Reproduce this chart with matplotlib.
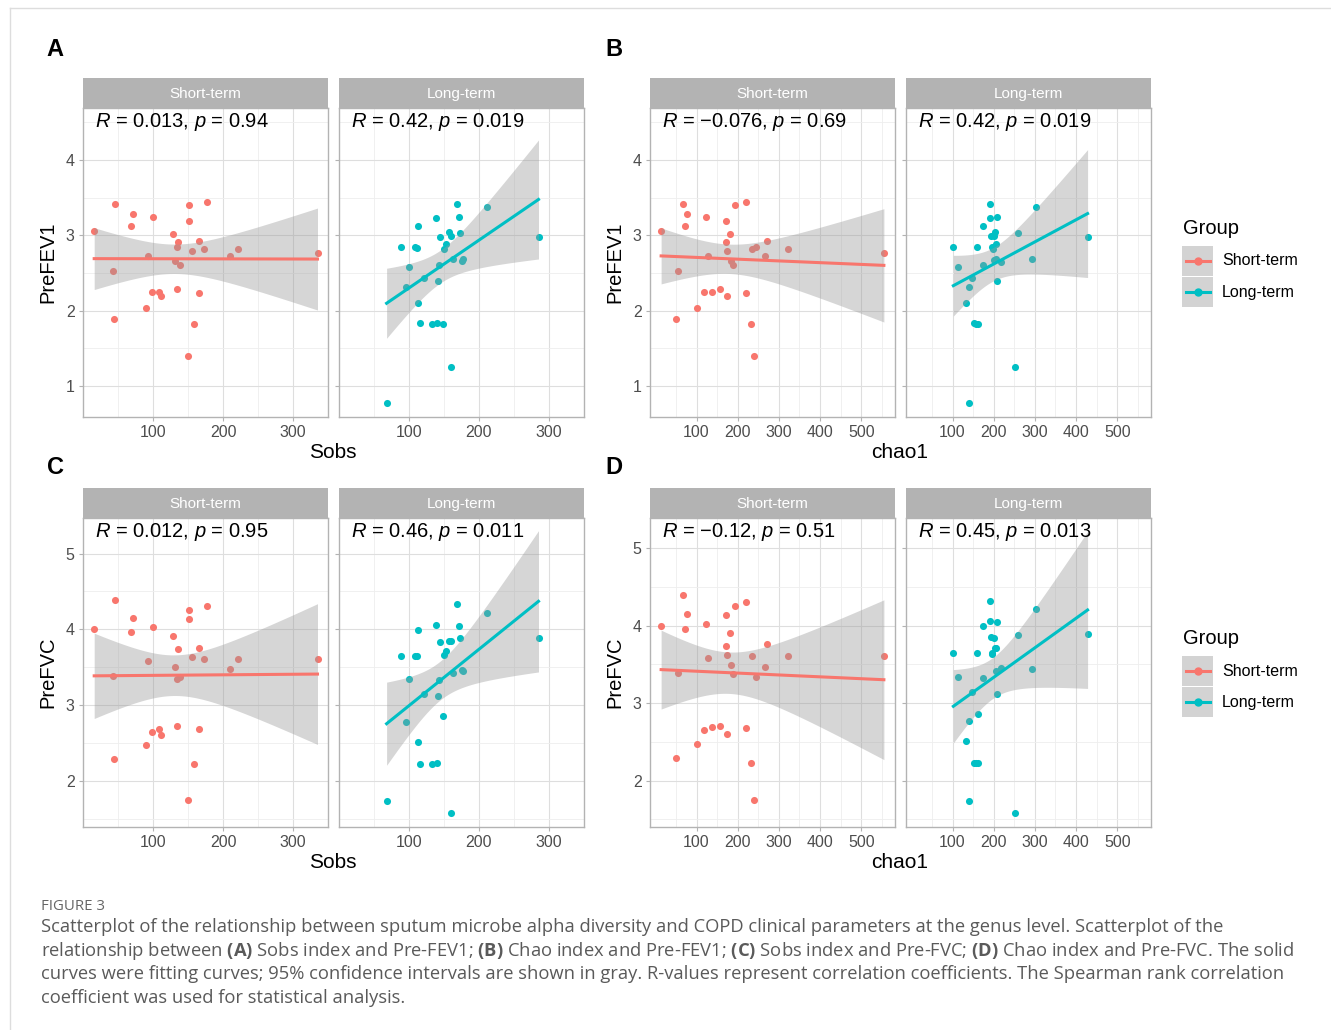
import matplotlib
matplotlib.use("Agg")
import matplotlib.pyplot as plt
from matplotlib.patches import Rectangle
from matplotlib.lines import Line2D
import numpy as np

plt.rcParams['font.family'] = ['Liberation Sans', 'DejaVu Sans']
plt.rcParams['mathtext.fontset'] = 'custom'
plt.rcParams['mathtext.rm'] = 'Liberation Sans'
plt.rcParams['mathtext.it'] = 'Liberation Sans:italic'
plt.rcParams['mathtext.bf'] = 'Open Sans:bold'

groups = ["Short-term", "Long-term"]
colors = ["#F8766D", "#00BFC4"]

# A: Sobs vs PreFEV1
a_short_x = [16, 46, 43, 44, 68, 71, 100, 93, 98, 108, 111, 90, 128, 134, 136, 131, 139, 134, 151, 151,
             156, 166, 173, 177, 165, 159, 150, 210, 221, 335]
a_short_y = [3.06, 3.42, 2.53, 1.89, 3.12, 3.28, 3.24, 2.73, 2.25, 2.25, 2.19, 2.04, 3.02, 2.85, 2.91, 2.66,
             2.61, 2.29, 3.40, 3.19, 2.79, 2.93, 2.82, 3.44, 2.24, 1.82, 1.40, 2.73, 2.82, 2.76]
a_long_x = [68, 89, 109, 111, 113, 100, 95, 121, 113, 115, 133, 140, 149, 160, 138, 144, 143, 142, 150, 153,
            157, 160, 168, 171, 173, 163, 175, 177, 211, 285]
a_long_y = [0.78, 2.85, 2.85, 2.83, 3.12, 2.58, 2.32, 2.43, 2.10, 1.84, 1.82, 1.84, 1.83, 1.25, 3.23, 2.98,
            2.61, 2.39, 2.82, 2.88, 3.05, 2.99, 3.42, 3.25, 3.03, 2.68, 2.66, 2.69, 3.38, 2.98]

# B: chao1 vs PreFEV1
b_short_x = [14, 68, 78, 72, 54, 49, 102, 122, 127, 119, 137, 158, 171, 171, 174, 174, 181, 183, 189, 193,
             220, 221, 235, 245, 232, 239, 271, 267, 322, 555]
b_short_y = [3.06, 3.42, 3.28, 3.12, 2.53, 1.89, 2.04, 3.24, 2.73, 2.25, 2.25, 2.29, 3.19, 2.91, 2.79, 2.19,
             3.02, 2.66, 2.61, 3.40, 3.44, 2.24, 2.82, 2.85, 1.82, 1.40, 2.93, 2.73, 2.82, 2.76]
b_long_x = [102, 114, 140, 132, 141, 148, 151, 163, 160, 174, 175, 190, 192, 193, 201, 202, 208, 198, 205, 205,
            218, 209, 251, 258, 292, 302, 428, 196, 201, 157]
b_long_y = [2.85, 2.58, 0.78, 2.10, 2.31, 2.43, 1.84, 1.83, 2.85, 2.61, 3.12, 3.23, 3.42, 2.99, 2.99, 3.05,
            3.25, 2.82, 2.89, 2.68, 2.65, 2.39, 1.25, 3.03, 2.69, 3.38, 2.98, 2.84, 2.67, 1.83]

# C: Sobs vs PreFVC
c_short_x = [16, 46, 43, 44, 68, 71, 100, 93, 98, 108, 111, 90, 128, 136, 131, 134, 139, 134, 151, 151,
             156, 166, 173, 177, 165, 159, 150, 210, 221, 335]
c_short_y = [4.01, 4.39, 3.39, 2.29, 3.96, 4.15, 4.03, 3.58, 2.65, 2.69, 2.60, 2.47, 3.91, 3.74, 3.50, 3.35,
             3.37, 2.72, 4.25, 4.14, 3.63, 3.76, 3.61, 4.31, 2.68, 2.22, 1.74, 3.47, 3.61, 3.61]
c_long_x = [68, 89, 109, 112, 113, 100, 95, 121, 113, 115, 133, 140, 148, 160, 138, 144, 143, 142, 150, 153,
            157, 160, 168, 171, 173, 163, 175, 177, 211, 285]
c_long_y = [1.73, 3.65, 3.65, 3.65, 3.99, 3.34, 2.77, 3.14, 2.51, 2.22, 2.22, 2.23, 2.86, 1.58, 4.06, 3.83,
            3.33, 3.12, 3.66, 3.71, 3.84, 3.85, 4.33, 4.05, 3.88, 3.42, 3.46, 3.45, 4.22, 3.89]

# D: chao1 vs PreFVC
d_short_x = [14, 68, 78, 72, 54, 49, 102, 122, 127, 119, 137, 158, 171, 171, 174, 174, 181, 183, 189, 193,
             220, 221, 235, 245, 232, 239, 271, 267, 322, 555]
d_short_y = [4.00, 4.39, 4.15, 3.96, 3.39, 2.29, 2.47, 4.02, 3.58, 2.65, 2.69, 2.71, 4.14, 3.74, 3.62, 2.60,
             3.91, 3.49, 3.37, 4.25, 4.31, 2.68, 3.61, 3.34, 2.22, 1.75, 3.76, 3.47, 3.61, 3.61]
d_long_x = [102, 114, 140, 132, 141, 148, 151, 157, 163, 160, 174, 175, 190, 192, 193, 201, 202, 208, 196, 205,
            205, 218, 209, 251, 258, 292, 302, 428, 163, 197]
d_long_y = [3.65, 3.34, 1.73, 2.51, 2.77, 3.14, 2.22, 2.22, 2.23, 3.65, 3.33, 3.99, 4.06, 4.32, 3.85, 3.84,
            3.71, 4.05, 3.65, 3.71, 3.42, 3.45, 3.12, 1.58, 3.88, 3.44, 4.22, 3.89, 2.86, 3.64]

stats = {
    "A": [r"$R$ = 0.013, $p$ = 0.94", r"$R$ = 0.42, $p$ = 0.019"],
    "B": [r"$R$ = $-$0.076, $p$ = 0.69", r"$R$ = 0.42, $p$ = 0.019"],
    "C": [r"$R$ = 0.012, $p$ = 0.95", r"$R$ = 0.46, $p$ = 0.011"],
    "D": [r"$R$ = $-$0.12, $p$ = 0.51", r"$R$ = 0.45, $p$ = 0.013"],
}

W, H = 1331, 1030
fig = plt.figure(figsize=(W / 100, H / 100), dpi=100)


def fx(px):
    return px / W


def fy(py):
    return 1 - py / H


def smooth(x, y):
    # lm fit with 95% band, like geom_smooth(method="lm")
    x = np.asarray(x, float)
    y = np.asarray(y, float)
    n = len(x)
    b, a = np.polyfit(x, y, 1)
    res = y - (a + b * x)
    s = np.sqrt(np.sum(res ** 2) / (n - 2))
    xs = np.linspace(x.min(), x.max(), 80)
    se = s * np.sqrt(1 / n + (xs - x.mean()) ** 2 / np.sum((x - x.mean()) ** 2))
    t = 2.048
    yh = a + b * xs
    return xs, yh, yh - t * se, yh + t * se


def panel(left, top, xdata, ydata, label, xlim, ylim, xmaj, xmin, ymaj, ymin):
    for i in range(2):
        l = left + i * 256
        ax = fig.add_axes([fx(l), fy(top + 339), fx(245), 309 / H])
        sax = fig.add_axes([fx(l), fy(top + 30), fx(245), 30 / H])
        sax.set_facecolor("#B3B3B3")
        sax.set_xticks([])
        sax.set_yticks([])
        for sp in sax.spines.values():
            sp.set_visible(False)
        sax.text(0.5, 0.47, groups[i], color="white", fontsize=11, ha="center", va="center",
                 transform=sax.transAxes)

        ax.scatter(xdata[i], ydata[i], s=26, color=colors[i], zorder=2, linewidths=0)
        xs, yh, lo, hi = smooth(xdata[i], ydata[i])
        ax.fill_between(xs, lo, hi, color="#999999", alpha=0.4, linewidth=0, zorder=3)
        ax.plot(xs, yh, color=colors[i], lw=2.2, zorder=4)
        ax.text(0.05, 0.955, stats[label][i], transform=ax.transAxes, fontsize=14.5,
                ha="left", va="center", zorder=5)

        ax.set_xlim(xlim)
        ax.set_ylim(ylim)
        ax.set_xticks(xmaj)
        ax.set_xticks(xmin, minor=True)
        ax.set_yticks(ymaj)
        ax.set_yticks(ymin, minor=True)
        ax.grid(which="major", color="#DEDEDE", lw=0.8)
        ax.grid(which="minor", color="#EEEEEE", lw=0.6)
        ax.set_axisbelow(True)
        for sp in ax.spines.values():
            sp.set_color("#B3B3B3")
            sp.set_linewidth(1.0)
        ax.tick_params(which="major", length=3, color="#B3B3B3", labelsize=11.5, labelcolor="#4D4D4D", pad=3)
        ax.tick_params(which="minor", length=0)
        if i == 1:
            ax.set_yticklabels([])
    return ax


panel(83, 78, [a_short_x, a_long_x], [a_short_y, a_long_y], "A", (0, 350), (0.59, 4.69),
      [100, 200, 300], [50, 150, 250], [1, 2, 3, 4], [1.5, 2.5, 3.5, 4.5])
panel(650, 78, [b_short_x, b_long_x], [b_short_y, b_long_y], "B", (-13, 582), (0.59, 4.69),
      [100, 200, 300, 400, 500], [50, 150, 250, 350, 450, 550], [1, 2, 3, 4], [1.5, 2.5, 3.5, 4.5])
panel(83, 488, [c_short_x, c_long_x], [c_short_y, c_long_y], "C", (0, 350), (1.39, 5.47),
      [100, 200, 300], [50, 150, 250], [2, 3, 4, 5], [1.5, 2.5, 3.5, 4.5])
panel(650, 488, [d_short_x, d_long_x], [d_short_y, d_long_y], "D", (-13, 582), (1.40, 5.39),
      [100, 200, 300, 400, 500], [50, 150, 250, 350, 450, 550], [2, 3, 4, 5], [1.5, 2.5, 3.5, 4.5])

# panel letters and axis titles
for letter, px, py in [("A", 55, 50), ("B", 614, 50), ("C", 55, 468), ("D", 614, 468)]:
    fig.text(fx(px), fy(py), letter, fontsize=17, fontweight="bold", ha="center", va="center")
for txt, px, py in [("Sobs", 333, 453), ("chao1", 900, 453), ("Sobs", 333, 863), ("chao1", 900, 863)]:
    fig.text(fx(px), fy(py), txt, fontsize=15, ha="center", va="center")
for txt, px, py in [("PreFEV1", 48, 262), ("PreFEV1", 615, 262), ("PreFVC", 48, 672), ("PreFVC", 615, 672)]:
    fig.text(fx(px), fy(py), txt, fontsize=14.5, ha="center", va="center", rotation=90)

# legends
for top in (228, 638):
    fig.text(fx(1183), fy(top), "Group", fontsize=14.5, ha="left", va="center")
    for k in range(2):
        yk = top + 33 + k * 31
        fig.patches.append(Rectangle((fx(1182), fy(yk + 15)), fx(31), 30 / H, transform=fig.transFigure,
                                     facecolor="#D3D3D3", edgecolor="none"))
        fig.lines.append(Line2D([fx(1186), fx(1210)], [fy(yk), fy(yk)], transform=fig.transFigure,
                                color=colors[k], lw=2.2))
        fig.lines.append(Line2D([fx(1198)], [fy(yk)], transform=fig.transFigure, marker="o",
                                markersize=5, color=colors[k], lw=0))
        fig.text(fx(1222), fy(yk), groups[k], fontsize=11.5, ha="left", va="center")

# page border
fig.lines.append(Line2D([fx(10), 1], [fy(8), fy(8)], transform=fig.transFigure, color="#DDDDDD", lw=1))
fig.lines.append(Line2D([fx(10), fx(10)], [fy(8), 0], transform=fig.transFigure, color="#DDDDDD", lw=1))

# caption
cap_font = ["Open Sans", "DejaVu Sans"]
fig.text(fx(41), fy(907), "FIGURE 3", fontsize=10.8, color="#666666", family=cap_font, ha="left", va="center")
caption = [
    "Scatterplot of the relationship between sputum microbe alpha diversity and COPD clinical parameters at the genus level. Scatterplot of the",
    r"relationship between $\mathbf{(A)}$ Sobs index and Pre-FEV1; $\mathbf{(B)}$ Chao index and Pre-FEV1; $\mathbf{(C)}$ Sobs index and Pre-FVC; $\mathbf{(D)}$ Chao index and Pre-FVC. The solid",
    "curves were fitting curves; 95% confidence intervals are shown in gray. R-values represent correlation coefficients. The Spearman rank correlation",
    "coefficient was used for statistical analysis.",
]
for j, line in enumerate(caption):
    fig.text(fx(41), fy(927 + j * 23.7), line, fontsize=13.2, color="#5A5A5A", family=cap_font,
             ha="left", va="center")

fig.savefig("out.png", dpi=100)
